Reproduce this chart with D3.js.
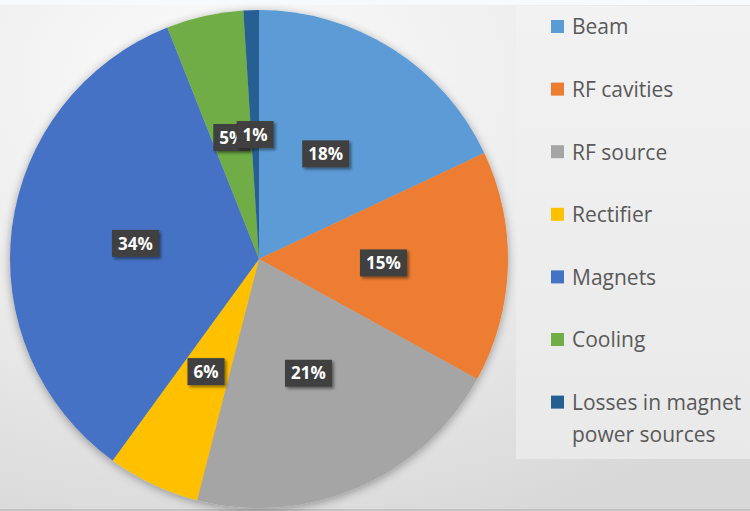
<!DOCTYPE html>
<html>
<head>
<meta charset="utf-8">
<script src="https://cdn.jsdelivr.net/npm/d3@7"></script>
<style>
  html, body { margin: 0; padding: 0; background: #fff; }
  svg { display: block; }
</style>
</head>
<body>
<svg id="chart" width="750" height="511"></svg>
<script>
// Share of power consumption by subsystem (percent)
const categories = ["Beam", "RF cavities", "RF source", "Rectifier", "Magnets", "Cooling", "Losses in magnet power sources"];
const shares = [18, 15, 21, 6, 34, 5, 1];
const palette = ["#5B9BD5", "#ED7D31", "#A5A5A5", "#FFC000", "#4472C4", "#70AD47", "#255E91"];
const legendLines = [["Beam"], ["RF cavities"], ["RF source"], ["Rectifier"], ["Magnets"], ["Cooling"], ["Losses in magnet", "power sources"]];

const W = 750, H = 511;
const svg = d3.select("#chart");
const defs = svg.append("defs");

// Background: soft radial grey
const bg = defs.append("radialGradient").attr("id", "bg")
  .attr("cx", "30%").attr("cy", "15%").attr("r", "95%");
bg.append("stop").attr("offset", "0%").attr("stop-color", "#fbfbfb");
bg.append("stop").attr("offset", "55%").attr("stop-color", "#ebebeb");
bg.append("stop").attr("offset", "100%").attr("stop-color", "#d8d8d8");
svg.append("rect").attr("width", W).attr("height", H).attr("fill", "url(#bg)");
svg.append("rect").attr("width", W).attr("height", 5).attr("fill", "#f8f9fc");
svg.append("rect").attr("y", H - 2).attr("width", W).attr("height", 2).attr("fill", "#c4c4c4");

// Legend panel
const lg = defs.append("linearGradient").attr("id", "lg").attr("x1", 0).attr("y1", 0).attr("x2", 0).attr("y2", 1);
lg.append("stop").attr("offset", "0%").attr("stop-color", "#f2f2f2");
lg.append("stop").attr("offset", "100%").attr("stop-color", "#e9e9e9");
svg.append("rect").attr("x", 516).attr("y", 6).attr("width", W - 516).attr("height", 453).attr("fill", "url(#lg)");

// Shadows
const pieShadow = defs.append("filter").attr("id", "pieShadow")
  .attr("x", "-10%").attr("y", "-10%").attr("width", "120%").attr("height", "120%");
pieShadow.append("feGaussianBlur").attr("in", "SourceAlpha").attr("stdDeviation", 5).attr("result", "b");
pieShadow.append("feOffset").attr("in", "b").attr("dx", 0).attr("dy", 2).attr("result", "o");
pieShadow.append("feComponentTransfer").attr("in", "o").attr("result", "s")
  .append("feFuncA").attr("type", "linear").attr("slope", 0.35);
const m1 = pieShadow.append("feMerge");
m1.append("feMergeNode").attr("in", "s");
m1.append("feMergeNode").attr("in", "SourceGraphic");

const boxShadow = defs.append("filter").attr("id", "boxShadow")
  .attr("x", "-20%").attr("y", "-20%").attr("width", "150%").attr("height", "160%");
boxShadow.append("feGaussianBlur").attr("in", "SourceAlpha").attr("stdDeviation", 1.5).attr("result", "b");
boxShadow.append("feOffset").attr("in", "b").attr("dx", 2).attr("dy", 2).attr("result", "o");
boxShadow.append("feComponentTransfer").attr("in", "o").attr("result", "s")
  .append("feFuncA").attr("type", "linear").attr("slope", 0.45);
const m2 = boxShadow.append("feMerge");
m2.append("feMergeNode").attr("in", "s");
m2.append("feMergeNode").attr("in", "SourceGraphic");

// Pie
const cx = 259, cy = 259, R = 249;
const color = d3.scaleOrdinal().domain(categories).range(palette);
const pie = d3.pie().sort(null).value(d => d.v);
const arcs = pie(categories.map((c, i) => ({ c, v: shares[i] })));
const arc = d3.arc().innerRadius(0).outerRadius(R);
const labelArc = d3.arc().innerRadius(R * 0.5).outerRadius(R * 0.5);

const g = svg.append("g").attr("transform", `translate(${cx},${cy})`);
g.append("g").attr("filter", "url(#pieShadow)")
  .selectAll("path").data(arcs).join("path")
  .attr("d", arc)
  .attr("fill", d => color(d.data.c));

// Data labels
const labels = g.selectAll("g.lbl").data(arcs).join("g").attr("class", "lbl")
  .attr("transform", d => {
    const [x, y] = labelArc.centroid(d);
    return `translate(${x},${y})`;
  });
labels.each(function(d) {
  const sel = d3.select(this);
  const txt = d.data.v + "%";
  const bw = txt.length > 2 ? 47 : 37, bh = 27;
  sel.append("rect").attr("x", -bw / 2).attr("y", -bh / 2).attr("width", bw).attr("height", bh)
    .attr("fill", "#404040").attr("filter", "url(#boxShadow)");
  sel.append("text").attr("text-anchor", "middle").attr("dy", "0.36em")
    .attr("font-family", "'Open Sans', 'DejaVu Sans', sans-serif")
    .attr("font-weight", "bold").attr("font-size", 17).attr("fill", "#ffffff")
    .text(txt);
});

// Legend
const y0 = 27, step = 62.6;
const leg = svg.append("g").selectAll("g").data(categories).join("g")
  .attr("transform", (d, i) => `translate(551,${y0 + i * step})`);
leg.append("rect").attr("x", 0).attr("y", -7).attr("width", 13).attr("height", 13)
  .attr("fill", d => color(d));
leg.append("text")
  .attr("font-family", "'Open Sans', 'DejaVu Sans', sans-serif")
  .attr("font-size", 21).attr("fill", "#595959")
  .each(function(d, i) {
    d3.select(this).selectAll("tspan").data(legendLines[i]).join("tspan")
      .attr("x", 21).attr("y", (t, j) => j * 32).attr("dy", "0.35em").text(t => t);
  });
</script>
</body>
</html>
